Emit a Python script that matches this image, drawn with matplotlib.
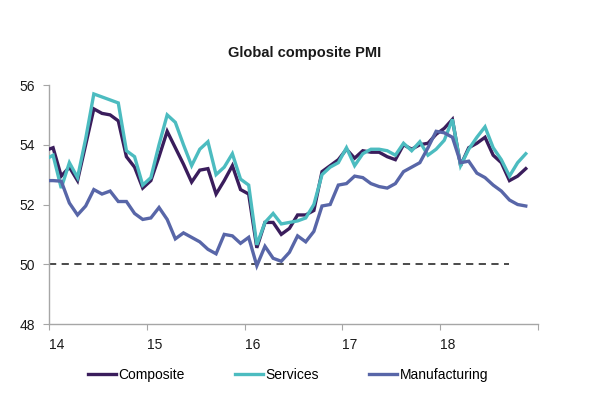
import matplotlib
matplotlib.use("Agg")
import matplotlib.pyplot as plt
import numpy as np

plt.rcParams['font.family'] = ['Liberation Sans', 'DejaVu Sans']

# Monthly data, Dec 2013 .. Nov 2018
start_year = 13
start_month = 12
composite = [53.8, 53.9, 52.95, 53.25, 52.8, 54.0, 55.2, 55.05, 55.0, 54.8,
             53.6, 53.25, 52.55, 52.8, 53.6, 54.45, 53.9, 53.35, 52.75, 53.15,
             53.2, 52.35, 52.8, 53.3, 52.5, 52.35, 50.55, 51.4, 51.4, 51.0,
             51.2, 51.65, 51.65, 51.8, 53.1, 53.3, 53.5, 53.85, 53.55, 53.8,
             53.75, 53.75, 53.6, 53.5, 54.0, 53.85, 54.0, 54.05, 54.35, 54.55,
             54.85, 53.3, 53.9, 54.05, 54.25, 53.65, 53.4, 52.8, 52.95, 53.2]
services = [53.5, 53.65, 52.55, 53.4, 52.9, 54.2, 55.7, 55.6, 55.5, 55.4,
            53.8, 53.6, 52.65, 52.9, 54.0, 55.0, 54.75, 54.0, 53.3, 53.85,
            54.1, 53.0, 53.25, 53.7, 52.85, 52.65, 50.65, 51.4, 51.7, 51.35,
            51.4, 51.45, 51.55, 52.0, 53.0, 53.25, 53.4, 53.9, 53.3, 53.7,
            53.85, 53.85, 53.8, 53.65, 54.05, 53.8, 54.1, 53.65, 53.85, 54.15,
            54.85, 53.3, 53.85, 54.25, 54.6, 53.9, 53.5, 52.95, 53.4, 53.7]
manufacturing = [52.8, 52.8, 52.78, 52.05, 51.65, 51.95, 52.5, 52.35, 52.45, 52.1,
                 52.1, 51.7, 51.5, 51.55, 51.9, 51.5, 50.85, 51.05, 50.9, 50.75,
                 50.5, 50.35, 51.0, 50.95, 50.7, 50.9, 49.95, 50.6, 50.2, 50.1,
                 50.4, 50.95, 50.75, 51.1, 51.95, 52.0, 52.65, 52.7, 52.95, 52.9,
                 52.7, 52.6, 52.55, 52.7, 53.1, 53.25, 53.4, 53.9, 54.45, 54.4,
                 54.25, 53.4, 53.45, 53.05, 52.9, 52.65, 52.45, 52.15, 52.0, 51.95]

series_names = ["Composite", "Services", "Manufacturing"]
series_colors = ["#3a1d5c", "#4cbcc0", "#5866a8"]
x_ticks = [14, 15, 16, 17, 18, 19]
x_tick_labels = ["14", "15", "16", "17", "18", ""]
y_ticks = [48, 50, 52, 54, 56]
ref_level = 50
ref_end = 18.7

n = len(composite)
months = np.arange(n)
x = start_year + (start_month - 1 + months + 0.5) / 12.0

fig = plt.figure(figsize=(5.9, 4.11), dpi=100)
ax = fig.add_axes([49/590, 1 - 324/411, (538-49)/590, (324-85)/411])

ax.plot([14, ref_end], [ref_level, ref_level], color="#3c3c3c", lw=1.3,
        ls=(0, (4, 3)), zorder=1)
for vals, name, col in zip([composite, services, manufacturing], series_names, series_colors):
    ax.plot(x, vals, color=col, lw=2.4, label=name, solid_joinstyle='miter', zorder=3)

ax.set_xlim(14, 19)
ax.set_ylim(48, 56)
ax.set_xticks(x_ticks)
ax.set_xticklabels(x_tick_labels)
ax.set_yticks(y_ticks)
for s in ["top", "right"]:
    ax.spines[s].set_visible(False)
for s in ["left", "bottom"]:
    ax.spines[s].set_color("#a6a6a6")
    ax.spines[s].set_linewidth(1.0)
ax.tick_params(axis="both", direction="out", length=4, color="#a6a6a6",
               labelsize=10, labelcolor="#1a1a1a")
ax.tick_params(axis="y", pad=6)
ax.tick_params(axis="x", pad=6)
for lbl in ax.get_xticklabels():
    lbl.set_horizontalalignment("left")

fig.text(0.517, 1 - 53/411, "Global composite PMI", ha="center", va="center",
         fontsize=10.5, fontweight="bold", color="#1a1a1a")

fig.legend(loc="center", bbox_to_anchor=(0.488, 1 - 375/411), ncol=3, frameon=False,
           fontsize=10, handlelength=2.0, handletextpad=0.2, columnspacing=3.6)

fig.savefig("out.png", dpi=100)
